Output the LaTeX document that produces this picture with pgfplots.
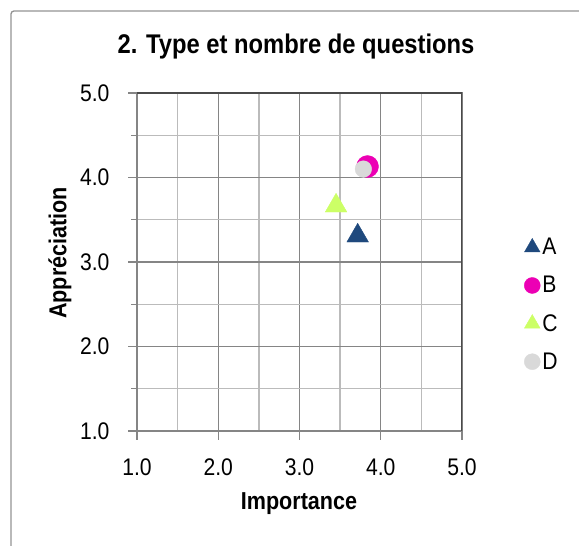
\documentclass[border=0pt]{standalone}
\usepackage{pgfplots}
\pgfplotsset{compat=1.18}
\usepackage{fontspec}
\setmainfont{Liberation Sans}[FakeStretch=0.88]
\definecolor{cA}{HTML}{1F497D}
\definecolor{cB}{HTML}{EC00B4}
\definecolor{cC}{HTML}{CCFF66}
\definecolor{cD}{HTML}{D9D9D9}
\definecolor{gmaj}{HTML}{858585}
\definecolor{gmin}{HTML}{BBBBBB}
\definecolor{gframe}{HTML}{4A4A4A}
\begin{document}
\begin{tikzpicture}[x=1bp,y=1bp,font=\fontsize{24bp}{28bp}\selectfont]
\useasboundingbox (0,0) rectangle (579,546);
\draw[color=gray!85, line width=1.3bp, rounded corners=3bp] (11,-20) -- (11,535) -- (600,535);
\node[font=\fontsize{27bp}{31bp}\selectfont\bfseries] at (296,499) {2. Type et nombre de questions};
\node[font=\fontsize{24.5bp}{29bp}\selectfont\bfseries] at (299,42) {Importance};
\node[font=\fontsize{24.5bp}{29bp}\selectfont\bfseries, rotate=90] at (60,293) {Appréciation};
\begin{axis}[
  at={(137bp,115bp)}, anchor=south west, scale only axis,
  width=325bp, height=338bp,
  xmin=1, xmax=5, ymin=1, ymax=5,
  xtick={1,2,3,4,5}, ytick={1,2,3,4,5},
  minor x tick num=1, minor y tick num=1,
  grid=both,
  major grid style={draw=gmaj, line width=1.4bp},
  minor grid style={draw=gmin, line width=1.4bp},
  axis line style={draw=gmaj, line width=1.4bp},
  tick style={draw=gmaj, line width=1.4bp},
  tick align=outside,
  major tick length=9bp, minor tick length=6bp,
  minor x tick style={draw=none},
  xtick pos=bottom, ytick pos=left,
  /pgf/number format/assume math mode=true,
  /pgf/number format/fixed, /pgf/number format/fixed zerofill,
  /pgf/number format/precision=1,
  xticklabel style={anchor=center, yshift=-27bp},
  yticklabel style={anchor=east, xshift=-15bp},
  legend style={draw=none, fill=none, inner sep=0pt, at={(1.191,0.374)}, anchor=west,
     font=\fontsize{24bp}{28bp}\selectfont, row sep=16bp},
  legend cell align=left,
  legend image code/.code={\draw[mark repeat=2,mark phase=2,#1] plot coordinates {(0bp,0bp)(8bp,0bp)(16bp,0bp)};},
]
\addplot[only marks, mark=triangle*, mark size=12.5bp, color=cA, forget plot] coordinates {(3.716,3.31)};
\addplot[only marks, mark=*, mark size=11bp, color=cB, forget plot] coordinates {(3.837,4.13)};
\addplot[only marks, mark=triangle*, mark size=12.5bp, color=cC, forget plot] coordinates {(3.45,3.665)};
\addplot[only marks, mark=*, mark size=8.3bp, color=cD, forget plot] coordinates {(3.786,4.10)};
\addlegendimage{only marks, mark=triangle*, mark size=9bp, color=cA}
\addlegendentry{A}
\addlegendimage{only marks, mark=*, mark size=8bp, color=cB}
\addlegendentry{B}
\addlegendimage{only marks, mark=triangle*, mark size=9bp, color=cC}
\addlegendentry{C}
\addlegendimage{only marks, mark=*, mark size=8bp, color=cD}
\addlegendentry{D}
\draw[draw=gframe, line width=1.4bp] (rel axis cs:0,1) -- (rel axis cs:1,1) -- (rel axis cs:1,0);
\end{axis}
\end{tikzpicture}
\end{document}
